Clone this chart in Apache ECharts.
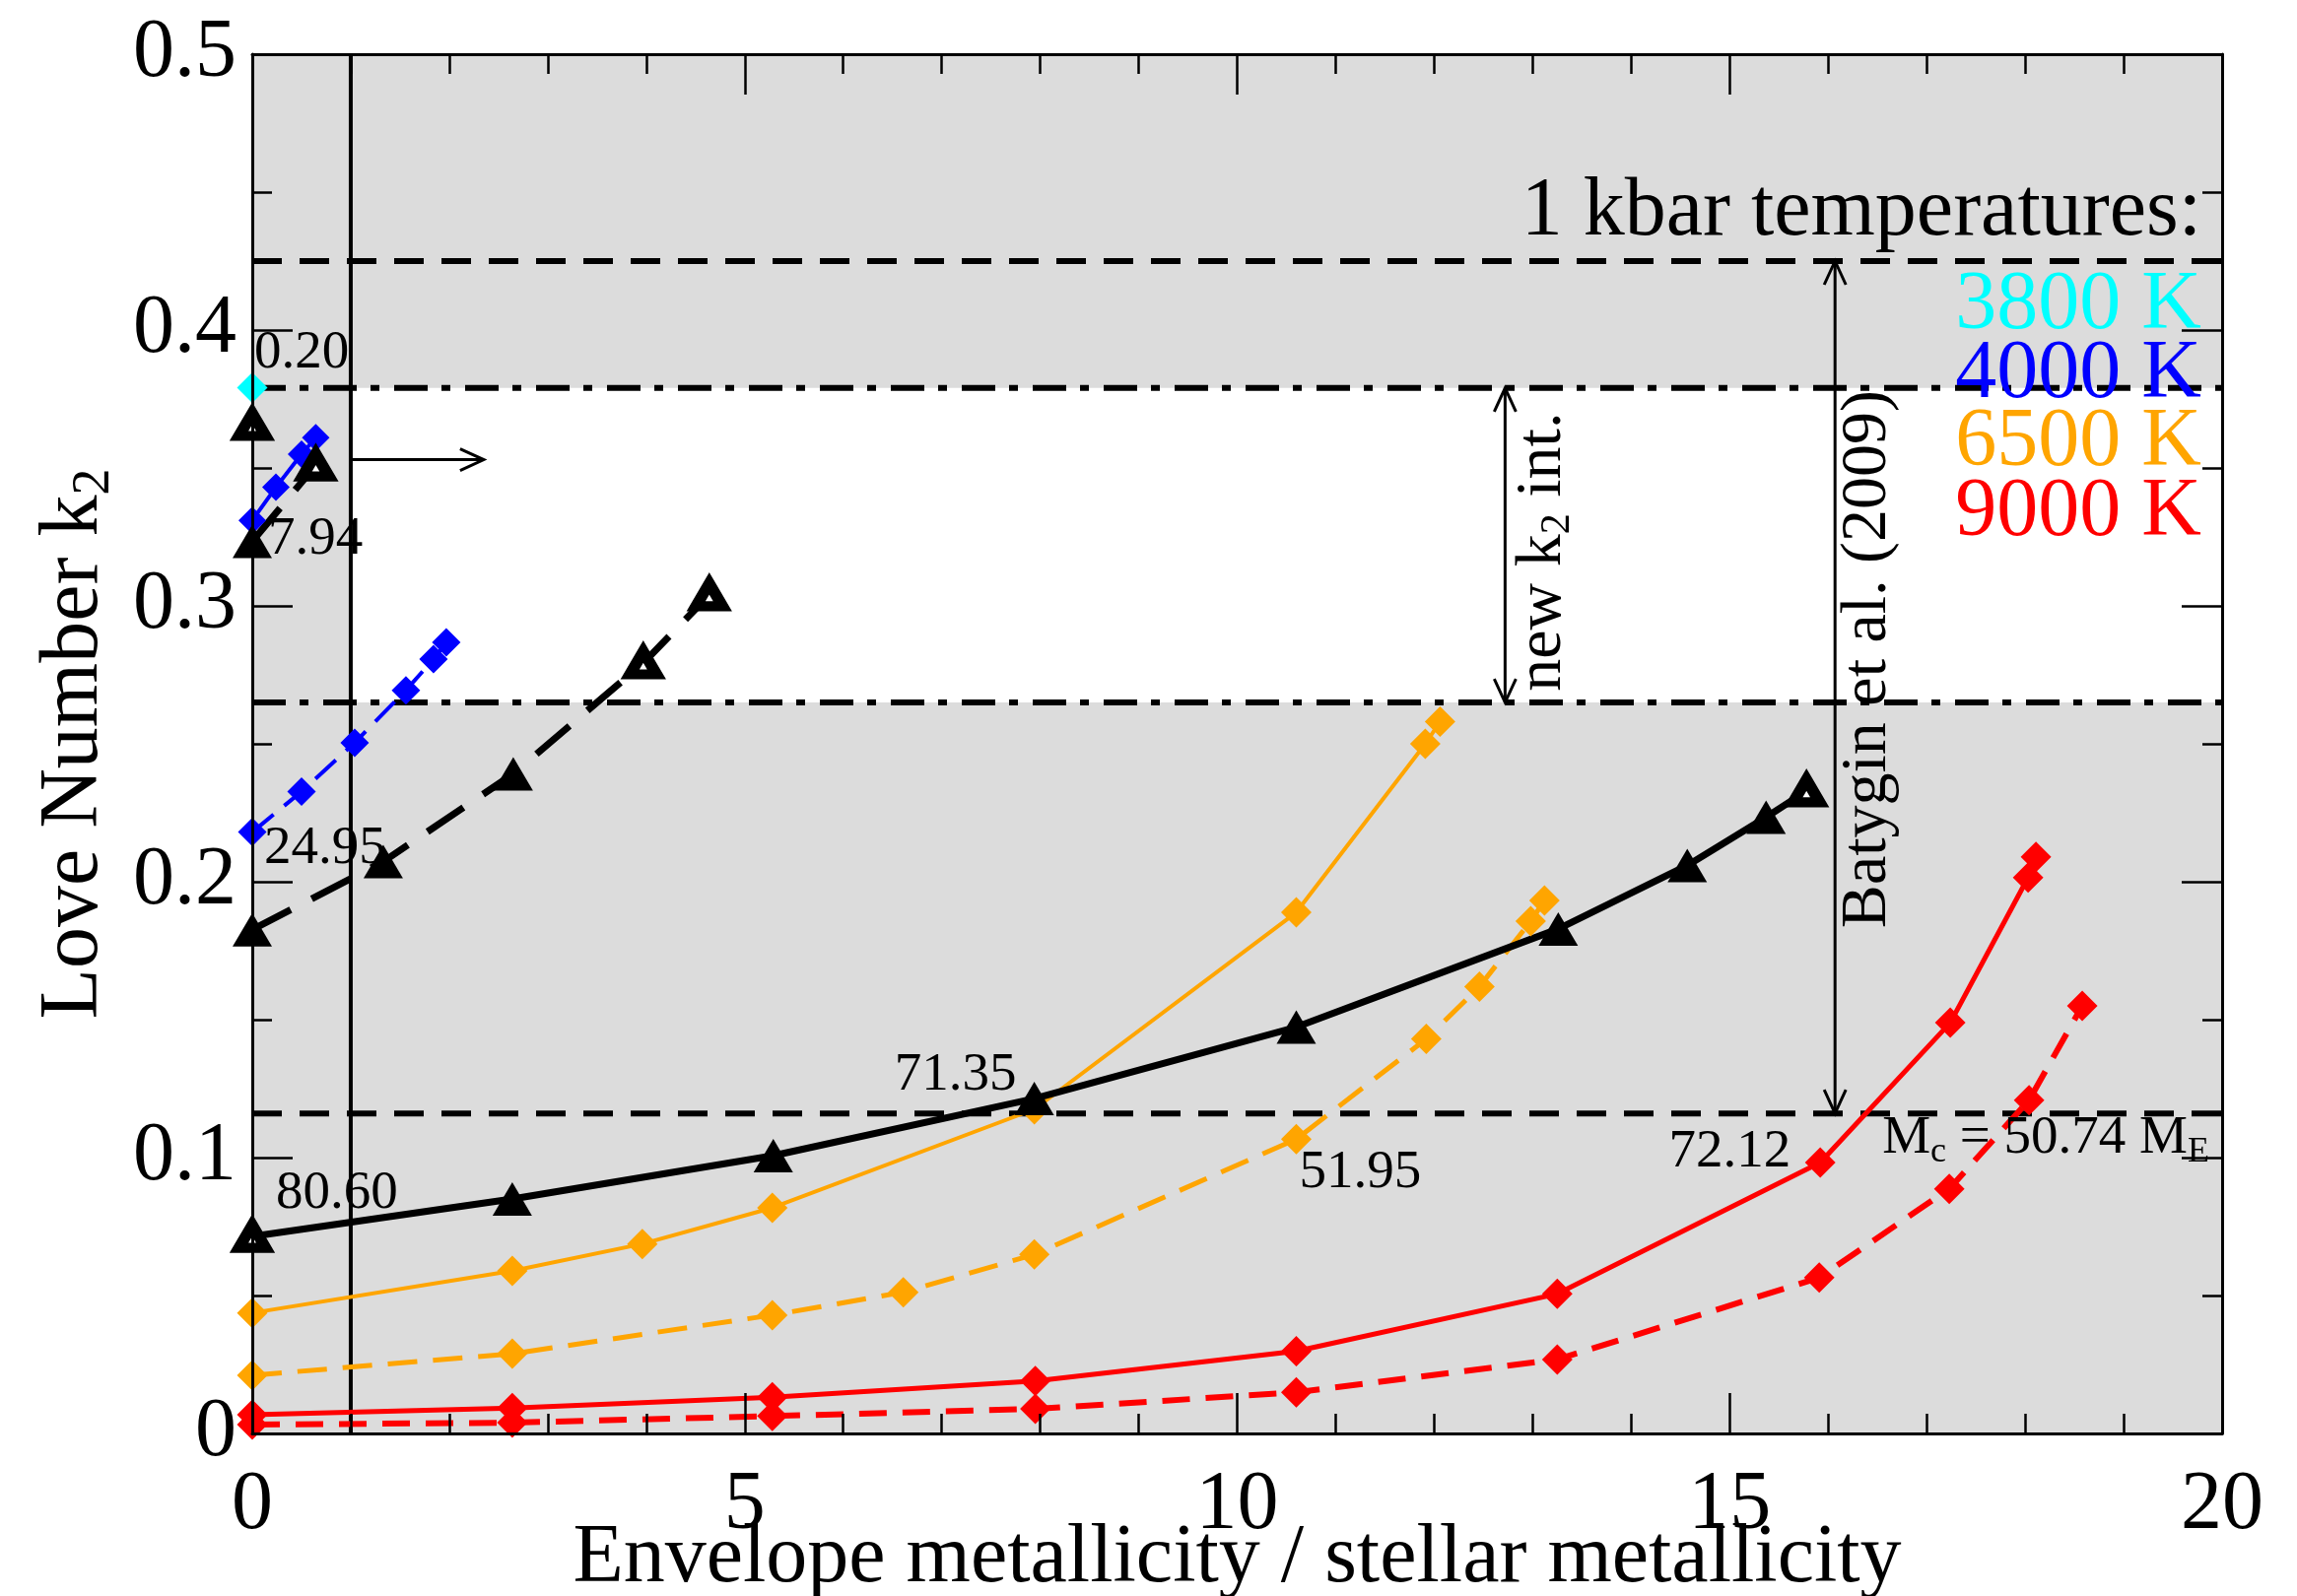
<!DOCTYPE html>
<html><head><meta charset="utf-8">
<script src="https://cdn.jsdelivr.net/npm/echarts@6/dist/echarts.min.js"></script>
<style>html,body{margin:0;padding:0;background:#fff}#c{width:2331px;height:1620px}</style>
</head><body><div id="c"></div>
<script>
const FONT = '"Liberation Serif","Times New Roman",Times,serif';

// ---------- tick labels ----------
const xTickLabels = ['0', '5', '10', '15', '20'];
const yTickLabels = ['0', '0.1', '0.2', '0.3', '0.4', '0.5'];

// ---------- series data ----------
// black, solid (lower branch)
const blackSolidX = [0, 2.64, 5.29, 7.94, 10.6, 13.26, 14.57, 15.37, 15.78];
const blackSolidY = [0.0714, 0.0850, 0.1007, 0.1214, 0.1473, 0.1829, 0.2059, 0.2234, 0.2329];
// black, dashed (middle branch)
const blackDashX = [0, 1.33, 2.65, 3.97, 4.64];
const blackDashY = [0.1826, 0.2073, 0.2391, 0.2793, 0.3040];
// black, dashed (upper short branch)
const blackTopX = [0, 0.645];
const blackTopY = [0.3234, 0.3510];
// black, single point
const blackSingleX = [0];
const blackSingleY = [0.3657];
// cyan single point (3800 K)
const cyanX = [0];
const cyanY = [0.3791];
// blue solid / dashed (4000 K)
const blueSolidX = [0, 0.24, 0.50, 0.645];
const blueSolidY = [0.331, 0.343, 0.355, 0.361];
const blueDashX = [0, 0.50, 1.04, 1.56, 1.84, 1.97];
const blueDashY = [0.218, 0.2327, 0.2504, 0.2694, 0.2807, 0.2868];
// orange solid / dashed (6500 K)
const orangeSolidX = [0, 2.64, 3.96, 5.28, 7.94, 10.6, 11.91, 12.06];
const orangeSolidY = [0.0437, 0.0589, 0.0687, 0.0818, 0.1175, 0.1889, 0.2500, 0.2580];
const orangeDashX = [0, 2.64, 5.28, 6.61, 7.94, 10.6, 11.92, 12.46, 12.98, 13.12];
const orangeDashY = [0.0211, 0.0289, 0.0429, 0.0512, 0.0649, 0.1067, 0.1430, 0.1620, 0.1857, 0.1932];
// red solid / dashed (9000 K)
const redSolidX = [0, 2.64, 5.28, 7.95, 10.6, 13.25, 15.92, 17.24, 18.03, 18.11];
const redSolidY = [0.0068, 0.0092, 0.0131, 0.0190, 0.0298, 0.0506, 0.0982, 0.1489, 0.2015, 0.2090];
const redDashX = [0, 2.64, 5.28, 7.95, 10.6, 13.25, 15.91, 17.23, 18.04, 18.58];
const redDashY = [0.0032, 0.0039, 0.0063, 0.0089, 0.0149, 0.0268, 0.0565, 0.0887, 0.1208, 0.1550];

// open-triangle point indices
const blackSolidOpen = [0, 8];
const blackDashOpen = [3, 4];
const blackTopOpen = [1];
const blackSingleOpen = [0];

// ---------- reference lines / annotations ----------
const refLineY = [0.425, 0.379, 0.265, 0.116];
const refLineKind = ['dash', 'dashdot', 'dashdot', 'dash'];
const bandX = [1, 20];
const bandY = [0.265, 0.379];
const vLineX = 1;

const arrowX1 = [1, 12.72, 16.07];
const arrowY1 = [0.353, 0.379, 0.425];
const arrowX2 = [2.35, 12.72, 16.07];
const arrowY2 = [0.353, 0.265, 0.116];
const arrowBoth = [0, 1, 1];

const noteText = ['0.20', '7.94', '24.95', '80.60', '71.35', '51.95', '72.12', 'M{sub|c} = 50.74 M{sub|E}'];
const noteX = [0.02, 0.16, 0.12, 0.24, 7.76, 10.63, 15.62, 16.55];
const noteY = [0.3915, 0.324, 0.2118, 0.0871, 0.1297, 0.0943, 0.102, 0.1068];
const noteAlign = ['left', 'left', 'left', 'left', 'right', 'left', 'right', 'left'];

const legendText = ['1 kbar temperatures:', '3800 K', '4000 K', '6500 K', '9000 K'];
const legendColor = ['#000000', '#00ffff', '#0000ff', '#ffa500', '#ff0000'];
const legendX = 19.79;
const legendY = [0.4425, 0.4085, 0.3835, 0.3590, 0.3335];

const vTextText = ['new k{sub|2} int.', 'Batygin et al. (2009)'];
const vTextX = [13.1, 16.4];
const vTextY = [0.3196, 0.2807];

// ---------- helpers ----------
function pts(xs, ys, openIdx, color) {
  return xs.map((x, i) => {
    const d = { value: [x, ys[i]] };
    if (openIdx && openIdx.indexOf(i) >= 0) {
      d.symbolSize = [27, 23];
      d.itemStyle = { color: '#ffffff', borderColor: color, borderWidth: 11 };
    }
    return d;
  });
}
function lineS(xs, ys, color, width, type, symbol, size, openIdx) {
  return {
    type: 'line', data: pts(xs, ys, openIdx, color), clip: false,
    lineStyle: { color: color, width: width, type: type },
    itemStyle: { color: color, borderWidth: 0 },
    symbol: symbol, symbolSize: size, showSymbol: true, showAllSymbol: true,
    z: 4, silent: true, animation: false
  };
}
const TRI = [40, 34];
const DIA = [31, 31];

const axisCommon = {
  type: 'value',
  axisLine: { show: true, onZero: false, lineStyle: { color: '#000', width: 3 } },
  axisTick: { show: true, inside: true, length: 41, lineStyle: { color: '#000', width: 2.5 } },
  minorTick: { show: true, length: 20, lineStyle: { color: '#000', width: 2.5 } },
  splitLine: { show: false }, minorSplitLine: { show: false },
  z: 10
};

const option = {
  animation: false,
  backgroundColor: '#ffffff',
  grid: { left: 256, right: 76, top: 55, bottom: 165, show: true, backgroundColor: '#dcdcdc',
    borderWidth: 0, containLabel: false, outerBoundsMode: 'none' },
  xAxis: [
    Object.assign({}, axisCommon, {
      min: 0, max: 20, interval: 5, position: 'bottom',
      minorTick: Object.assign({}, axisCommon.minorTick, { splitNumber: 5 }),
      axisLabel: { show: true, fontSize: 84, fontFamily: FONT, color: '#000', margin: 32,
        formatter: v => xTickLabels[Math.round(v / 5)] },
      name: 'Envelope metallicity / stellar metallicity', nameLocation: 'middle', nameGap: 86,
      nameMoveOverlap: false,
      nameTextStyle: { fontSize: 84, fontFamily: FONT, color: '#000' }
    }),
    Object.assign({}, axisCommon, {
      min: 0, max: 20, interval: 5, position: 'top',
      minorTick: Object.assign({}, axisCommon.minorTick, { splitNumber: 5 }),
      axisLabel: { show: false }
    })
  ],
  yAxis: [
    Object.assign({}, axisCommon, {
      min: 0, max: 0.5, interval: 0.1, position: 'left',
      minorTick: Object.assign({}, axisCommon.minorTick, { splitNumber: 2 }),
      axisLabel: { show: true, fontSize: 84, fontFamily: FONT, color: '#000', margin: 16,
        formatter: v => yTickLabels[Math.round(v * 10)] },
      name: 'Love Number k{sub|2}', nameLocation: 'middle', nameGap: 133,
      nameMoveOverlap: false,
      nameTextStyle: { fontSize: 84, fontFamily: FONT, color: '#000',
        rich: { sub: { fontSize: 54, fontFamily: FONT, color: '#000', padding: [40, 0, 0, 0] } } }
    }),
    Object.assign({}, axisCommon, {
      min: 0, max: 0.5, interval: 0.1, position: 'right',
      minorTick: Object.assign({}, axisCommon.minorTick, { splitNumber: 2 }),
      axisLabel: { show: false }
    })
  ],
  series: [
    // white band
    {
      type: 'custom', z: 1, silent: true, clip: false,
      data: [[bandX[0], bandY[1], bandX[1], bandY[0]]],
      renderItem: (params, api) => {
        const a = api.coord([api.value(0), api.value(1)]);
        const b = api.coord([api.value(2), api.value(3)]);
        return { type: 'rect', shape: { x: a[0], y: a[1], width: b[0] - a[0], height: b[1] - a[1] },
          style: { fill: '#ffffff' } };
      }
    },
    // horizontal reference lines
    {
      type: 'custom', z: 2, silent: true, clip: false,
      data: refLineY.map((y, i) => [0, y, i]),
      renderItem: (params, api) => {
        const i = api.value(2);
        const a = api.coord([0, api.value(1)]);
        const b = api.coord([20, api.value(1)]);
        const dash = refLineKind[i] === 'dash' ? [30, 18] : [34, 14, 9, 15];
        return { type: 'line', shape: { x1: a[0], y1: a[1], x2: b[0], y2: b[1] },
          style: { stroke: '#000', lineWidth: 6, lineDash: dash } };
      }
    },
    // vertical line at x = 1
    {
      type: 'custom', z: 3, silent: true, clip: false,
      data: [[vLineX, 0]],
      renderItem: (params, api) => {
        const a = api.coord([api.value(0), 0]);
        const b = api.coord([api.value(0), 0.5]);
        return { type: 'line', shape: { x1: a[0], y1: a[1], x2: b[0], y2: b[1] },
          style: { stroke: '#000', lineWidth: 4 } };
      }
    },
    // arrows
    {
      type: 'custom', z: 3, silent: true, clip: false,
      data: arrowX1.map((x, i) => [x, arrowY1[i], arrowX2[i], arrowY2[i], arrowBoth[i]]),
      renderItem: (params, api) => {
        const p1 = api.coord([api.value(0), api.value(1)]);
        const p2 = api.coord([api.value(2), api.value(3)]);
        const dx = p2[0] - p1[0], dy = p2[1] - p1[1];
        const len = Math.sqrt(dx * dx + dy * dy);
        const ux = dx / len, uy = dy / len, nx = -uy, ny = ux;
        const L = 24, W = 11;
        const st = { stroke: '#000', lineWidth: 3, fill: null };
        const head = (t, s) => ({ type: 'polyline', shape: { points: [
          [t[0] - s * L * ux + W * nx, t[1] - s * L * uy + W * ny], [t[0], t[1]],
          [t[0] - s * L * ux - W * nx, t[1] - s * L * uy - W * ny]] }, style: st });
        const ch = [{ type: 'line', shape: { x1: p1[0], y1: p1[1], x2: p2[0], y2: p2[1] }, style: st }, head(p2, 1)];
        if (api.value(4)) ch.push(head(p1, -1));
        return { type: 'group', children: ch };
      }
    },
    // data series
    lineS(orangeSolidX, orangeSolidY, '#ffa500', 4, 'solid', 'diamond', DIA),
    lineS(orangeDashX, orangeDashY, '#ffa500', 5, [30, 16], 'diamond', DIA),
    lineS(redSolidX, redSolidY, '#ff0000', 5, 'solid', 'diamond', DIA),
    lineS(redDashX, redDashY, '#ff0000', 6, [28, 16], 'diamond', DIA),
    lineS(blueDashX, blueDashY, '#0000ff', 4, [28, 14], 'diamond', [29, 29]),
    lineS(blackDashX, blackDashY, '#000000', 7, [44, 24], 'triangle', TRI, blackDashOpen),
    lineS(blackSolidX, blackSolidY, '#000000', 7, 'solid', 'triangle', TRI, blackSolidOpen),
    lineS(blueSolidX, blueSolidY, '#0000ff', 4, 'solid', 'diamond', [28, 28]),
    lineS(blackTopX, blackTopY, '#000000', 7, [44, 24], 'triangle', TRI, blackTopOpen),
    lineS(blackSingleX, blackSingleY, '#000000', 7, 'solid', 'triangle', TRI, blackSingleOpen),
    lineS(cyanX, cyanY, '#00ffff', 4, 'solid', 'diamond', DIA),
    // point notes
    {
      type: 'custom', z: 6, silent: true, clip: false,
      data: noteX.map((x, i) => [x, noteY[i], i]),
      renderItem: (params, api) => {
        const i = api.value(2);
        const p = api.coord([api.value(0), api.value(1)]);
        return { type: 'text', x: p[0], y: p[1], style: {
          text: noteText[i], fontSize: 55, fontFamily: FONT, fill: '#000',
          align: noteAlign[i], verticalAlign: 'middle',
          rich: { sub: { fontSize: 36, fontFamily: FONT, fill: '#000', padding: [28, 0, 0, 0] } } } };
      }
    },
    // legend-like texts
    {
      type: 'custom', z: 6, silent: true, clip: false,
      data: legendY.map((y, i) => [legendX, y, i]),
      renderItem: (params, api) => {
        const i = api.value(2);
        const p = api.coord([api.value(0), api.value(1)]);
        return { type: 'text', x: p[0], y: p[1], style: {
          text: legendText[i], fontSize: 84, fontFamily: FONT, fill: legendColor[i],
          align: 'right', verticalAlign: 'middle' } };
      }
    },
    // vertical texts
    {
      type: 'custom', z: 6, silent: true, clip: false,
      data: vTextX.map((x, i) => [x, vTextY[i], i]),
      renderItem: (params, api) => {
        const i = api.value(2);
        const p = api.coord([api.value(0), api.value(1)]);
        return { type: 'text', x: p[0], y: p[1], rotation: Math.PI / 2, style: {
          text: vTextText[i], fontSize: 66, fontFamily: FONT, fill: '#000',
          align: 'center', verticalAlign: 'middle',
          rich: { sub: { fontSize: 42, fontFamily: FONT, fill: '#000', padding: [32, 0, 0, 0] } } } };
      }
    }
  ]
};

const chart = echarts.init(document.getElementById('c'), null, { renderer: 'canvas' });
chart.setOption(option);
</script>
</body></html>
